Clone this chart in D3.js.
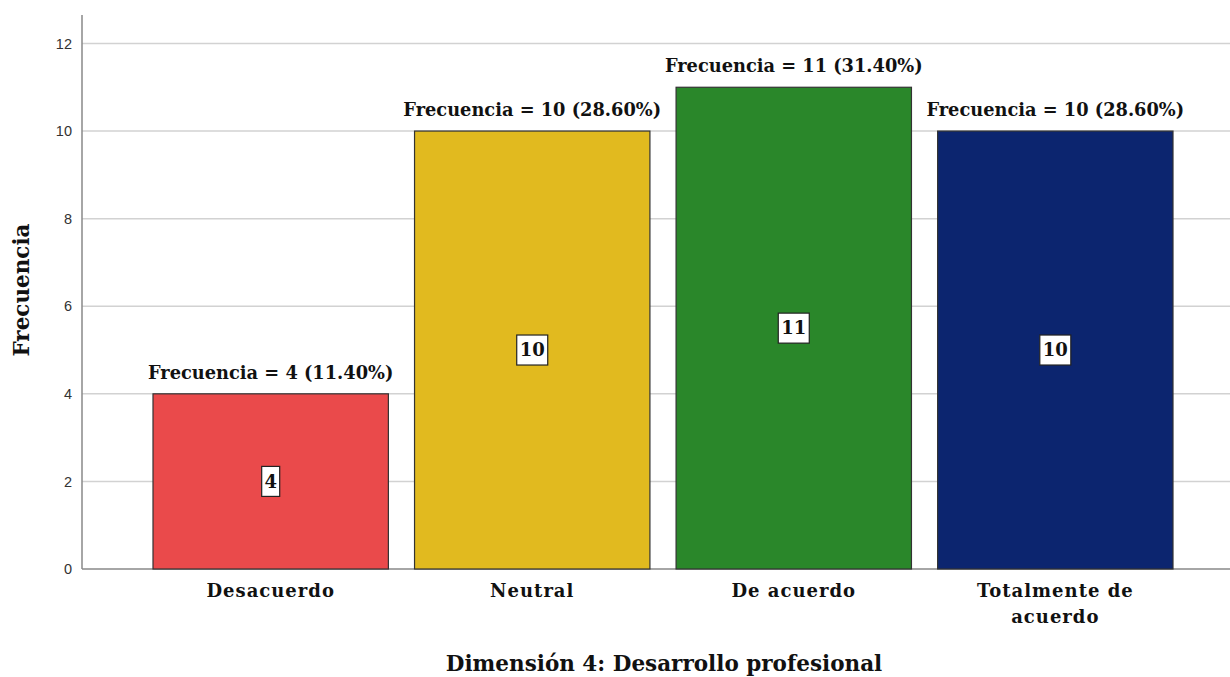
<!DOCTYPE html>
<html><head><meta charset="utf-8">
<script src="https://cdn.jsdelivr.net/npm/d3@7"></script>
<style>body{margin:0;background:#fff}svg{display:block}</style>
</head><body>
<svg id="c" width="1230" height="677"></svg>
<script>
const categories = ["Desacuerdo","Neutral","De acuerdo","Totalmente de acuerdo"];
const catLines = [["Desacuerdo"],["Neutral"],["De acuerdo"],["Totalmente de","acuerdo"]];
const values = [4,10,11,10];
const percents = ["11.40%","28.60%","31.40%","28.60%"];
const colors = ["#EA4A4B","#E1BA1F","#2A872A","#0C256F"];
const yTicks = [0,2,4,6,8,10,12];
const yTitle = "Frecuencia";
const xTitle = "Dimensión 4: Desarrollo profesional";

const svg = d3.select("#c");
const serif = "'DejaVu Serif',serif";
const y = d3.scaleLinear().domain([0,12.65]).range([569,15]);
const x = d3.scaleBand().domain(categories).range([153,1173]).paddingInner(0.1).paddingOuter(0);

// gridlines
svg.append("g").selectAll("line").data(yTicks.filter(d=>d>0)).join("line")
  .attr("x1",82).attr("x2",1230).attr("y1",d=>y(d)).attr("y2",d=>y(d))
  .attr("stroke","#d2d2d2").attr("stroke-width",1.5);

// y axis
const ya = svg.append("g").attr("transform","translate(82,0)")
  .call(d3.axisLeft(y).tickValues(yTicks).tickSize(0).tickPadding(10));
ya.select(".domain").remove();
ya.selectAll("text").attr("font-family","'Liberation Sans',Arial,sans-serif").attr("font-size",14.5).attr("fill","#333");
svg.append("line").attr("x1",82).attr("x2",82).attr("y1",15).attr("y2",569).attr("stroke","#888").attr("stroke-width",1.5);
svg.append("line").attr("x1",82).attr("x2",1230).attr("y1",569).attr("y2",569).attr("stroke","#888").attr("stroke-width",1.5);

// bars
svg.append("g").selectAll("rect").data(values).join("rect")
  .attr("x",(d,i)=>x(categories[i])).attr("width",x.bandwidth())
  .attr("y",d=>y(d)).attr("height",d=>y(0)-y(d))
  .attr("fill",(d,i)=>colors[i]).attr("stroke","#333").attr("stroke-width",1.2);

// top annotations
svg.append("g").selectAll("text").data(values).join("text")
  .attr("x",(d,i)=>x(categories[i])+x.bandwidth()/2).attr("y",d=>y(d)-15)
  .attr("text-anchor","middle").attr("font-family",serif).attr("font-weight","bold")
  .attr("font-size",17.8).attr("fill","#111")
  .text((d,i)=>`Frecuencia = ${d} (${percents[i]})`);

// value boxes
const vb = svg.append("g").selectAll("g").data(values).join("g")
  .attr("transform",(d,i)=>`translate(${x(categories[i])+x.bandwidth()/2},${y(d/2)})`);
vb.each(function(d){
  const g=d3.select(this);
  const w = String(d).length===1?18:31;
  g.append("rect").attr("x",-w/2).attr("y",-15).attr("width",w).attr("height",30)
   .attr("fill","#fff").attr("stroke","#222").attr("stroke-width",1.2);
  g.append("text").attr("text-anchor","middle").attr("dy","0.35em")
   .attr("font-family",serif).attr("font-weight","bold").attr("font-size",18)
   .attr("fill","#111").text(d);
});

// category labels
svg.append("g").selectAll("text").data(catLines).join("text")
  .attr("x",(d,i)=>x(categories[i])+x.bandwidth()/2).attr("y",597)
  .attr("text-anchor","middle").attr("font-family",serif).attr("font-weight","bold")
  .attr("font-size",18).attr("letter-spacing",1).attr("fill","#111")
  .each(function(lines){
    const t=d3.select(this);
    lines.forEach((l,j)=>t.append("tspan").attr("x",t.attr("x")).attr("dy",j?26:0).text(l));
  });

// axis titles
svg.append("text").attr("transform","translate(29,290) rotate(-90)").attr("text-anchor","middle")
  .attr("font-family",serif).attr("font-weight","bold").attr("font-size",21.5).attr("fill","#111").text(yTitle);
svg.append("text").attr("x",664).attr("y",671).attr("text-anchor","middle")
  .attr("font-family",serif).attr("font-weight","bold").attr("font-size",21.5).attr("fill","#111").text(xTitle);
</script>
</body></html>
